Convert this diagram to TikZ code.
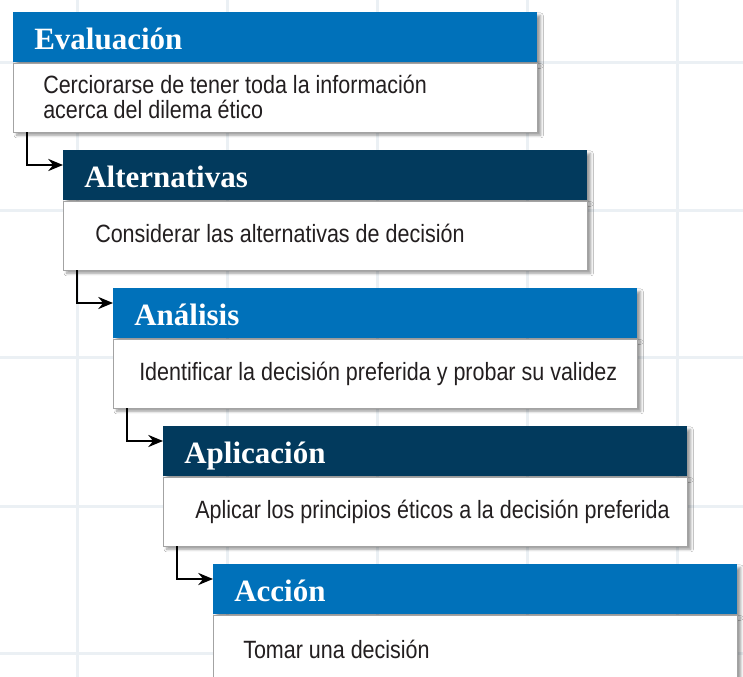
\documentclass[tikz,border=0pt]{standalone}
\usepackage{fontspec}
\usepackage{xcolor}
\usetikzlibrary{arrows.meta,shadows.blur}
\newfontfamily\headfont{Liberation Serif}
\newfontfamily\bodyfont[FakeStretch=0.86]{Liberation Sans}
\definecolor{headblue}{HTML}{0071BA}
\definecolor{headnavy}{HTML}{023A5D}
\definecolor{gridline}{HTML}{EBF0F4}
\definecolor{boxline}{HTML}{A3A3A3}
\definecolor{bodyink}{HTML}{231F20}
\tikzset{
  headbox/.style={anchor=north west, minimum width=393pt, minimum height=37.5pt,
    inner xsep=15.75pt, inner ysep=2pt, text width=361.5pt, align=left,
    text height=21pt, text depth=3pt, text=white,
    font=\headfont\bfseries\fontsize{23.25pt}{24pt}\selectfont,
    blur shadow={shadow xshift=2.5pt, shadow yshift=-2.5pt, shadow blur radius=2pt}},
  bodybox/.style={anchor=north west, minimum width=393pt, minimum height=51.75pt,
    fill=white, draw=boxline, line width=0.6pt,
    blur shadow={shadow xshift=2.5pt, shadow yshift=-2.5pt, shadow blur radius=2pt}},
  bodytext/.style={anchor=base west, align=left, inner sep=0pt, text=bodyink,
    font=\bodyfont\fontsize{18.75pt}{18.75pt}\selectfont},
  link/.style={draw=black, line width=2.2pt, line join=miter, -{Stealth[length=11pt,width=9pt]}}
}
\begin{document}
\begin{tikzpicture}[x=0.75pt,y=0.75pt,yscale=-1,xscale=1]
\useasboundingbox (0,0) rectangle (743,677);
\fill[white] (0,0) rectangle (743,677);

%Background grid
\draw[gridline, line width=2.25pt] (77,0) -- (77,677) (227,0) -- (227,677) (377,0) -- (377,677) (527,0) -- (527,677) (677,0) -- (677,677);
\draw[gridline, line width=2.25pt] (0,63) -- (743,63) (0,211) -- (743,211) (0,358) -- (743,358) (0,506) -- (743,506) (0,653) -- (743,653);

%Box: Evaluacion
\node (evalHead) [headbox, fill=headblue] at (13,12) {Evaluación};
\node (evalBody) [bodybox] at (evalHead.south west) {};
% Text Node (base = last line)
\node (evalText) [bodytext] at ([xshift=22.5pt,yshift=42pt]evalBody.north west) {Cerciorarse de tener toda la información\\acerca del dilema ético};

%Box: Alternativas
\node (altHead) [headbox, fill=headnavy] at (63,150) {Alternativas};
\node (altBody) [bodybox] at (altHead.south west) {};
% Text Node
\node (altText) [bodytext] at ([xshift=24pt,yshift=31.5pt]altBody.north west) {Considerar las alternativas de decisión};

%Box: Analisis
\node (anaHead) [headbox, fill=headblue] at (113,288) {Análisis};
\node (anaBody) [bodybox] at (anaHead.south west) {};
% Text Node
\node (anaText) [bodytext] at ([xshift=19.5pt,yshift=31.5pt]anaBody.north west) {Identificar la decisión preferida y probar su validez};

%Box: Aplicacion
\node (aplHead) [headbox, fill=headnavy] at (163,426) {Aplicación};
\node (aplBody) [bodybox] at (aplHead.south west) {};
% Text Node
\node (aplText) [bodytext] at ([xshift=24pt,yshift=31.5pt]aplBody.north west) {Aplicar los principios éticos a la decisión preferida};

%Box: Accion
\node (accHead) [headbox, fill=headblue] at (213,564) {Acción};
\node (accBody) [bodybox] at (accHead.south west) {};
% Text Node
\node (accText) [bodytext] at ([xshift=22.5pt,yshift=33pt]accBody.north west) {Tomar una decisión};

%Connectors
\coordinate (altIn) at ([yshift=11.25pt]altHead.north west);
\coordinate (anaIn) at ([yshift=11.25pt]anaHead.north west);
\coordinate (aplIn) at ([yshift=11.25pt]aplHead.north west);
\coordinate (accIn) at ([yshift=11.25pt]accHead.north west);
\draw[link] ([xshift=10.5pt]evalBody.south west) |- (altIn);
\draw[link] ([xshift=10.5pt]altBody.south west) |- (anaIn);
\draw[link] ([xshift=10.5pt]anaBody.south west) |- (aplIn);
\draw[link] ([xshift=10.5pt]aplBody.south west) |- (accIn);

\end{tikzpicture}
\end{document}
